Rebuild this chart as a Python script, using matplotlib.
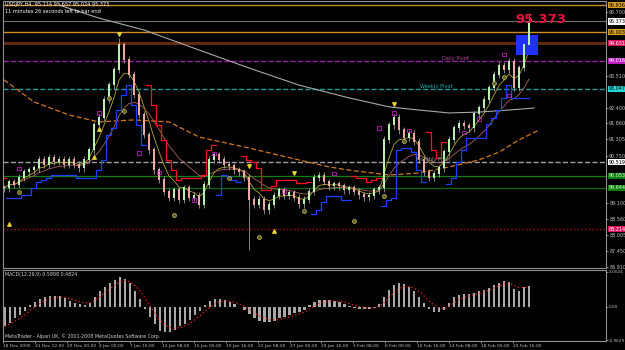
import numpy as np
import pandas as pd
import matplotlib
matplotlib.use("Agg")
import matplotlib.pyplot as plt

# USDJPY H4 closes (one bar here ~ 3 real H4 bars)
closes = [
    89.63, 89.84, 89.74, 89.98, 90.18, 90.25, 90.32, 90.60, 90.43, 90.67,
    90.53, 90.60, 90.43, 90.60, 90.43, 90.32, 90.60, 90.94, 91.80, 92.05,
    92.67, 93.18, 93.70, 94.56, 94.05, 93.53, 92.84, 92.15, 91.46, 90.94,
    90.25, 89.91, 89.50, 89.29, 89.56, 89.22, 89.63, 89.29, 89.36, 89.05,
    89.74, 90.60, 90.77, 90.60, 90.43, 90.39, 90.25, 90.18, 89.98, 89.22,
    89.05, 89.22, 88.87, 89.05, 89.36, 89.56, 89.36, 89.46, 89.29, 89.08,
    89.22, 89.50, 89.98, 90.05, 89.84, 89.70, 89.77, 89.70, 89.56, 89.63,
    89.50, 89.39, 89.32, 89.36, 89.56, 89.63, 91.29, 91.80, 92.05, 91.63,
    91.36, 91.50, 91.22, 90.60, 90.18, 89.98, 90.12, 90.32, 90.87, 91.29,
    91.70, 91.84, 91.77, 91.70, 92.18, 92.39, 92.67, 93.08, 93.53, 93.84,
    93.70, 93.98, 93.08, 93.77, 94.56, 95.37,
]
spike_bars = [23, 49, 105]
spike_high = [94.80, None, 95.657]
spike_low = [None, 87.50, None]

macd = [
    -0.57, -0.46, -0.34, -0.23, -0.11, 0.06, 0.14, 0.23, 0.29, 0.31,
    0.31, 0.31, 0.26, 0.17, 0.11, 0.09, 0.06, 0.11, 0.29, 0.46,
    0.57, 0.69, 0.77, 0.86, 0.80, 0.69, 0.46, 0.23, -0.06, -0.29,
    -0.51, -0.69, -0.74, -0.72, -0.66, -0.57, -0.49, -0.37, -0.23, -0.11,
    0.06, 0.17, 0.23, 0.23, 0.20, 0.14, 0.09, 0.00, -0.09, -0.20,
    -0.34, -0.40, -0.43, -0.43, -0.40, -0.34, -0.29, -0.23, -0.17, -0.14,
    -0.09, 0.06, 0.14, 0.20, 0.20, 0.20, 0.17, 0.14, 0.09, 0.03,
    -0.03, -0.06, -0.06, -0.06, -0.03, 0.09, 0.29, 0.49, 0.63, 0.69,
    0.66, 0.57, 0.46, 0.29, 0.11, -0.06, -0.14, -0.14, -0.09, 0.11,
    0.29, 0.34, 0.37, 0.37, 0.40, 0.46, 0.49, 0.54, 0.63, 0.69,
    0.74, 0.72, 0.51, 0.46, 0.57, 0.59,
]

# long moving averages (bar index, price)
ma200_x = [11, 19, 28, 39, 49, 59, 69, 77, 83, 89, 95, 101, 106]
ma200_y = [95.94, 95.49, 95.08, 94.39, 93.77, 93.18, 92.74, 92.43, 92.32, 92.22, 92.25, 92.32, 92.39]
ma100_x = [0, 6, 13, 19, 26, 33, 39, 49, 59, 65, 69, 77, 83, 89, 95, 99, 103, 107]
ma100_y = [93.36, 92.60, 92.15, 91.91, 91.98, 91.91, 91.39, 91.01, 90.60, 90.36, 90.25, 90.08,
           90.15, 90.36, 90.60, 90.87, 91.29, 91.63]

# signal markers
circ_x = [3, 21, 24, 34, 45, 51, 60, 70, 76, 80, 98, 100]
circ_y = [89.49, 92.74, 92.29, 88.70, 89.98, 87.94, 88.84, 88.50, 89.36, 91.25, 93.25, 93.46]
tri_up_x = [1, 18, 19, 54]
tri_up_y = [88.39, 90.70, 91.67, 88.15]
tri_dn_x = [23, 49, 58, 78]
tri_dn_y = [94.95, 90.39, 90.15, 92.53]
sq_x = [19, 3, 27, 31, 38, 42, 56, 66, 75, 78, 81, 92, 95, 100, 101]
sq_y = [92.22, 90.32, 90.84, 90.18, 89.22, 90.81, 89.53, 90.12, 91.70, 92.22, 91.63, 91.56,
        92.01, 94.22, 92.81]

# horizontal levels: price, line colour, style, width, label bg, label text colour
levels = [
    (95.936, "#c88c1e", "-", 1.0, "#d8a020", "black"),
    (95.373, "#707070", "-", 0.8, "white", "black"),
    (95.003, "#d08a1e", "-", 1.0, "#d8a020", "black"),
    (94.631, "#6a2a10", "-", 2.0, "#e0105a", "white"),
    (94.016, "#9a20a8", "--", 1.0, "#c020c0", "white"),
    (93.047, "#1a9a9a", "--", 1.0, "#20d8d8", "black"),
    (90.519, "#a0a0a0", "--", 1.0, "white", "black"),
    (90.053, "#118011", "-", 0.9, "#118011", "#d0ffd0"),
    (89.644, "#0b6a0b", "-", 0.9, "#118011", "#d0ffd0"),
    (88.214, "#a01010", ":", 1.0, "#e0105a", "white"),
]

price_ticks = [95.700, 95.145, 94.590, 94.035, 93.510, 92.955, 92.400, 91.860, 91.305,
               90.750, 90.210, 89.655, 89.100, 88.560, 88.005, 87.450, 86.910]
date_labels = ["18 Dec 2006", "21 Dec 12:00", "29 Dec 20:00", "4 Jan 00:00", "7 Jan 16:00",
               "12 Jan 08:00", "15 Jan 00:00", "19 Jan 16:00", "22 Jan 08:00", "27 Jan 00:00",
               "29 Jan 16:00", "3 Feb 08:00", "6 Feb 00:00", "10 Feb 16:00", "13 Feb 08:00",
               "18 Feb 00:00", "20 Feb 16:00"]

plt.rcParams["font.family"] = ["DejaVu Sans"]
fig = plt.figure(figsize=(6.25, 3.5), dpi=100, facecolor="black")
ax = fig.add_axes([0.0048, 0.2343, 0.9648, 0.7629], facecolor="black")
ax2 = fig.add_axes([0.0048, 0.0257, 0.9648, 0.2029], facecolor="black")

c = pd.Series(closes)
n = len(c)
x = np.arange(n)
opens = c.shift(1).fillna(c.iloc[0])
hi = np.maximum(opens, c) + 0.12
lo = np.minimum(opens, c) - 0.12
for b, h, l in zip(spike_bars, spike_high, spike_low):
    if h is not None:
        hi[b] = h
    if l is not None:
        lo[b] = l

# levels
for p, col, ls, lw, bg, fg in levels:
    ax.axhline(p, color=col, ls=ls, lw=lw, zorder=1)

# moving averages
ax.plot(ma200_x, ma200_y, color="#a8a8a8", lw=0.8, zorder=2)
ax.plot(ma100_x, ma100_y, color="#d07818", lw=0.9, ls=(0, (4, 2)), zorder=2)
fast = c.ewm(span=5).mean()
slow = c.ewm(span=14).mean()
ax.plot(x, fast, color="#b0a830", lw=0.6, zorder=3)
ax.plot(x, slow, color="#b06060", lw=0.6, zorder=3)

trend = fast > slow
upper = (c.rolling(4, min_periods=1).max() + 0.35).where(~trend)
lower = (c.rolling(4, min_periods=1).min() - 0.35).where(trend)
ax.plot(x, upper, color="#ff1020", lw=0.9, drawstyle="steps-mid", zorder=3)
ax.plot(x, lower, color="#1840ff", lw=0.9, drawstyle="steps-mid", zorder=3)

# candles
bull = c >= opens
ax.vlines(x, lo, hi, color="#b8b8b8", lw=0.5, zorder=4)
ax.bar(x, np.abs(c - opens) + 0.03, bottom=np.minimum(opens, c), width=0.5,
       color=np.where(bull, "#b8f0b0", "#f0a8a0"), zorder=5)

ax.scatter(circ_x, circ_y, s=8, facecolor="#606020", edgecolor="#c8c060", lw=0.5, zorder=6)
ax.scatter(tri_up_x, tri_up_y, s=6, marker="^", color="#e8d030", zorder=6)
ax.scatter(tri_dn_x, tri_dn_y, s=6, marker="v", color="#e8d030", zorder=6)
ax.scatter(sq_x, sq_y, s=5, marker="s", facecolor="none", edgecolor="#e020e0", lw=0.5, zorder=6)

# current bar zone
ax.fill_between([102.4, 106.8], 94.22, 94.91, color="#2030ff", zorder=4.5, lw=0)

ax.text(438 / 5, 94.02, "Daily Pivot", color="#c040a0", fontsize=3.6, va="bottom", zorder=7)
ax.text(416 / 5, 93.05, "Weekly Pivot", color="#20b0b0", fontsize=3.6, va="bottom", zorder=7)
ax.text(412 / 5, 90.52, "Monthly Pivot", color="#909090", fontsize=3.6, va="bottom", zorder=7)
ax.text(0.935, 95.45, "95.373", transform=ax.get_yaxis_transform(), color="#e8103c",
        fontsize=9.5, fontweight="bold", ha="right", va="center", zorder=8)

# price scale: ticks hidden under the coloured level boxes are not labelled
level_prices = [lv[0] for lv in levels]
shown = [t for t in price_ticks if min(abs(t - p) for p in level_prices) > 0.2]

ax.set_xlim(-0.2, 120.4)
ax.set_ylim(86.875, 96.08)
ax.yaxis.tick_right()
ax.set_yticks(shown)
ax.set_yticklabels([f"{t:.3f}" for t in shown])
ax.tick_params(axis="y", colors="#c0c0c0", labelsize=3.5, length=1.5, pad=0.8, width=0.5)
ax.set_xticks([])
for s in ax.spines.values():
    s.set_color("#909090")
    s.set_linewidth(0.8)

for p, col, ls, lw, bg, fg in levels:
    ax.annotate(f"{p:.3f}", xy=(1.004, p), xycoords=("axes fraction", "data"),
                fontsize=3.5, color=fg, va="center", ha="left", zorder=10,
                bbox=dict(boxstyle="square,pad=0.12", fc=bg, ec="none"), annotation_clip=False)

fig.text(0.008, 0.994, "USDJPY,H4  95.114 95.657 95.024 95.373", color="white",
         fontsize=3.6, va="top")
fig.text(0.008, 0.974, "11 minutes 26 seconds left to bar end", color="white",
         fontsize=3.6, va="top")

# MACD panel
ax2.bar(x, macd, width=0.45, color="#a8a8a8", zorder=2)
signal = pd.Series(macd).ewm(span=4).mean()
ax2.plot(x, signal, color="#ff2020", lw=0.9, ls=(0, (1, 2)), zorder=3)
ax2.set_xlim(-0.2, 120.4)
ax2.set_ylim(-0.99, 1.06)
ax2.yaxis.tick_right()
ax2.set_yticks([1.0024, 0.0, -0.9629])
ax2.set_yticklabels(["1.0024", "0.00", "-0.9629"])
ax2.tick_params(axis="y", colors="#c0c0c0", labelsize=3.1, length=1.2, pad=0.6, width=0.5)
ax2.set_xticks(np.arange(len(date_labels)) * 6.38 - 0.4)
ax2.set_xticklabels(date_labels, ha="left")
ax2.tick_params(axis="x", colors="#c0c0c0", labelsize=3.2, length=1.5, pad=0.8, width=0.5)
for s in ax2.spines.values():
    s.set_color("#909090")
    s.set_linewidth(0.8)
ax2.text(0.003, 0.97, "MACD(12,26,9) 0.5898 0.4824", transform=ax2.transAxes,
         color="#d0d0d0", fontsize=3.4, va="top")
ax2.text(0.003, 0.03, "MetaTrader - Alpari UK, \u00a9 2001-2008 MetaQuotes Software Corp.",
         transform=ax2.transAxes, color="#d0d0d0", fontsize=3.4, va="bottom")

fig.savefig("out.png", dpi=100, facecolor="black")
